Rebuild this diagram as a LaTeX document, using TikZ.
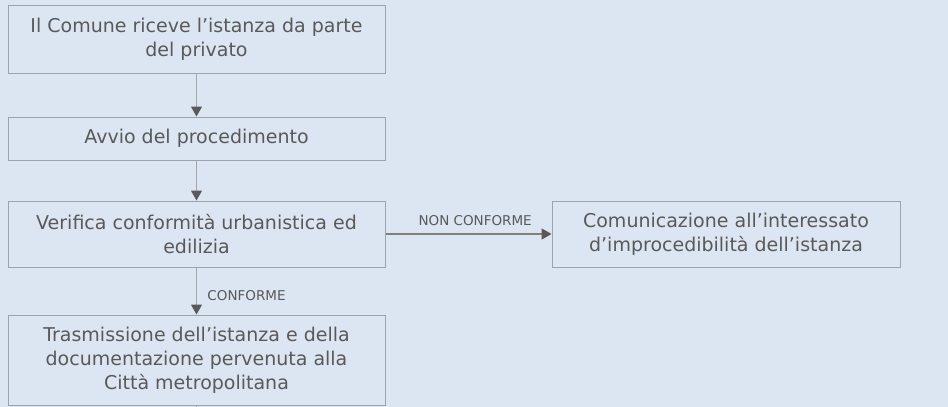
\documentclass[tikz,border=0pt]{standalone}
\usepackage{fontspec}
\setmainfont{DejaVu Sans}
\usetikzlibrary{arrows.meta}
\definecolor{sfondo}{HTML}{DCE6F2}
\definecolor{bordo}{HTML}{9BA3AD}
\definecolor{testo}{HTML}{595959}
\definecolor{linea}{HTML}{A6A6A6}
\begin{document}
\begin{tikzpicture}[x=1pt,y=-1pt]

      \fill[sfondo] (0,0) rectangle (948,407);
      \useasboundingbox (0,0) rectangle (948,407);

      \begin{scope}[every node/.style={draw=bordo,line width=1pt,fill=sfondo,text=testo,
          font=\fontsize{19}{24}\selectfont,align=center,inner sep=0pt}]
        \node[minimum width=377pt,minimum height=68pt] (1) at (196.5,39)  {Il Comune riceve l’istanza da parte\\del privato};
        \node[minimum width=377pt,minimum height=43pt] (2) at (196.5,138.5) {Avvio del procedimento};
        \node[minimum width=377pt,minimum height=66pt] (3) at (196.5,234) {Verifica conformità urbanistica ed\\edilizia};
        \node[minimum width=377pt,minimum height=90pt] (4) at (196.5,360) {Trasmissione dell’istanza e della\\documentazione pervenuta alla\\Città metropolitana};
        \node[minimum width=348pt,minimum height=66pt] (5) at (726,234)   {Comunicazione all’interessato\\d’improcedibilità dell’istanza};
      \end{scope}
      \coordinate (6) at (196.5,412);

      \begin{scope}[every node/.style={text=testo,font=\fontsize{13.5}{16}\selectfont}]

        \begin{scope}[every edge/.style={draw=linea,line width=1.3pt,-{Triangle[width=11pt,length=10pt,color=testo]}}]
          \path (1) edge (2);
          \path (2) edge (3);
          \path (3) edge node[right,pos=0.6,xshift=7pt] {CONFORME} (4);
          \path (3) edge[draw=gray] node[above,pos=0.54,yshift=4pt] {NON CONFORME} (5);
        \end{scope}
        \path (4) edge[draw=linea,line width=1.3pt] (6);
      \end{scope}

    \end{tikzpicture}
\end{document}
